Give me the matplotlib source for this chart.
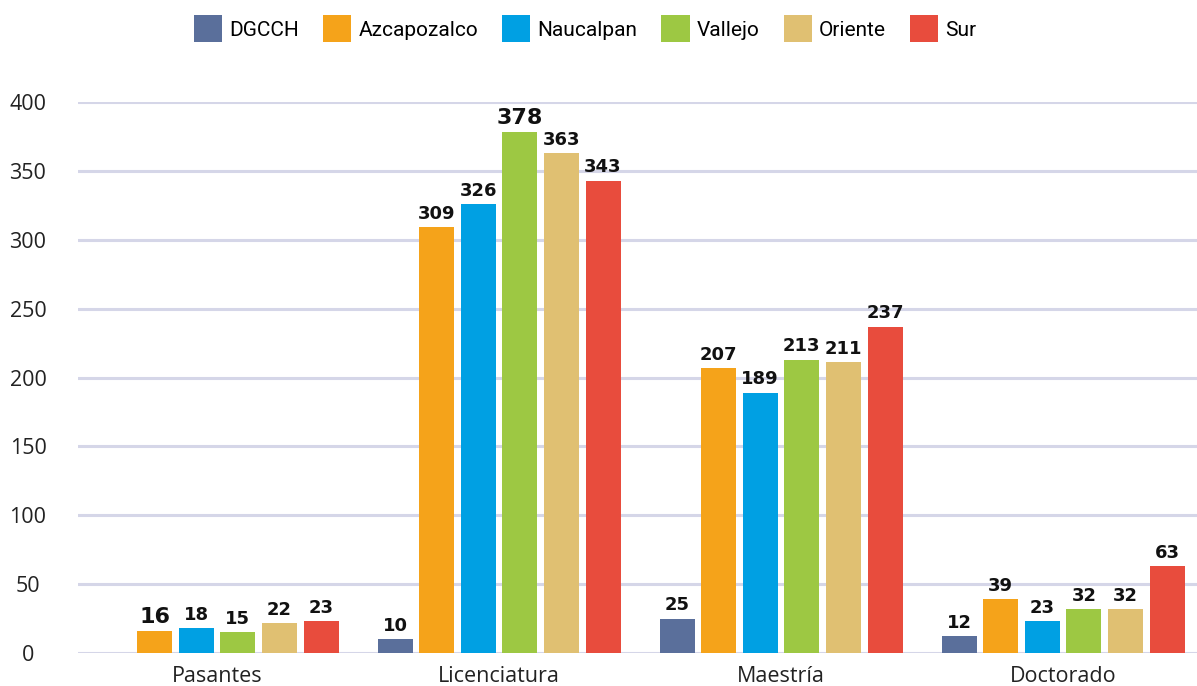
import numpy as np
import matplotlib
matplotlib.use('Agg')
import matplotlib.pyplot as plt

# Data
categories = ['Pasantes', 'Licenciatura', 'Maestría', 'Doctorado']
series_names = ['DGCCH', 'Azcapozalco', 'Naucalpan', 'Vallejo', 'Oriente', 'Sur']
dgcch = [None, 10, 25, 12]
azcapozalco = [16, 309, 207, 39]
naucalpan = [18, 326, 189, 23]
vallejo = [15, 378, 213, 32]
oriente = [22, 363, 211, 32]
sur = [23, 343, 237, 63]
yticks = [0, 50, 100, 150, 200, 250, 300, 350, 400]

colors = ['#5a6f9b', '#f5a31a', '#00a0e3', '#9dc843', '#e0c072', '#e84c3d']
# (series, category) labels drawn a bit larger in the original
big_labels = {(1, 0), (3, 1)}

series = [dgcch, azcapozalco, naucalpan, vallejo, oriente, sur]

fig = plt.figure(figsize=(11.97, 6.86), dpi=100)
ax = fig.add_axes([78 / 1197, 33 / 686, 1 - 78 / 1197, (653 - 102) / 686])

x = np.arange(len(categories))
slot = 0.1475
width = 0.124
n = len(series)

handles = []
for i, (name, vals, col) in enumerate(zip(series_names, series, colors)):
    offs = (i - (n - 1) / 2) * slot
    xs = [xi + offs for xi, v in zip(x, vals) if v is not None]
    hs = [v for v in vals if v is not None]
    bars = ax.bar(xs, hs, width=width, color=col, label=name, zorder=3)
    handles.append(bars)
    for j, v in enumerate(vals):
        if v is None:
            continue
        size = 16 if (i, j) in big_labels else 13
        ax.annotate(str(v), (x[j] + offs, v), xytext=(0, 3), textcoords='offset points',
                    ha='center', va='bottom', fontsize=size, fontweight='bold',
                    family='DejaVu Sans', color='#111111', clip_on=False)

ax.set_xlim(-0.493, 3.475)
ax.set_ylim(0, 400)
ax.set_yticks(yticks)
ax.set_xticks(x)
ax.set_xticklabels(categories, fontsize=15.5, family='Open Sans', color='#222222')
for lbl in ax.get_yticklabels():
    lbl.set_horizontalalignment('center')
    lbl.set_fontsize(15.5)
    lbl.set_family('Open Sans')
    lbl.set_color('#222222')
ax.tick_params(axis='y', length=0, pad=36)
ax.tick_params(axis='x', length=0, pad=9)
ax.grid(axis='y', color='#d5d6e8', linewidth=2.2, zorder=0)
ax.set_axisbelow(True)
for s in ax.spines.values():
    s.set_visible(False)

fig.legend(handles=handles, labels=series_names, loc='center', bbox_to_anchor=(0.489, 0.958),
           ncol=6, frameon=False, handlelength=1.35, handleheight=1.6, handletextpad=0.35,
           columnspacing=1.15, prop={'family': 'Roboto', 'size': 15})

fig.savefig('out.png', dpi=100)
